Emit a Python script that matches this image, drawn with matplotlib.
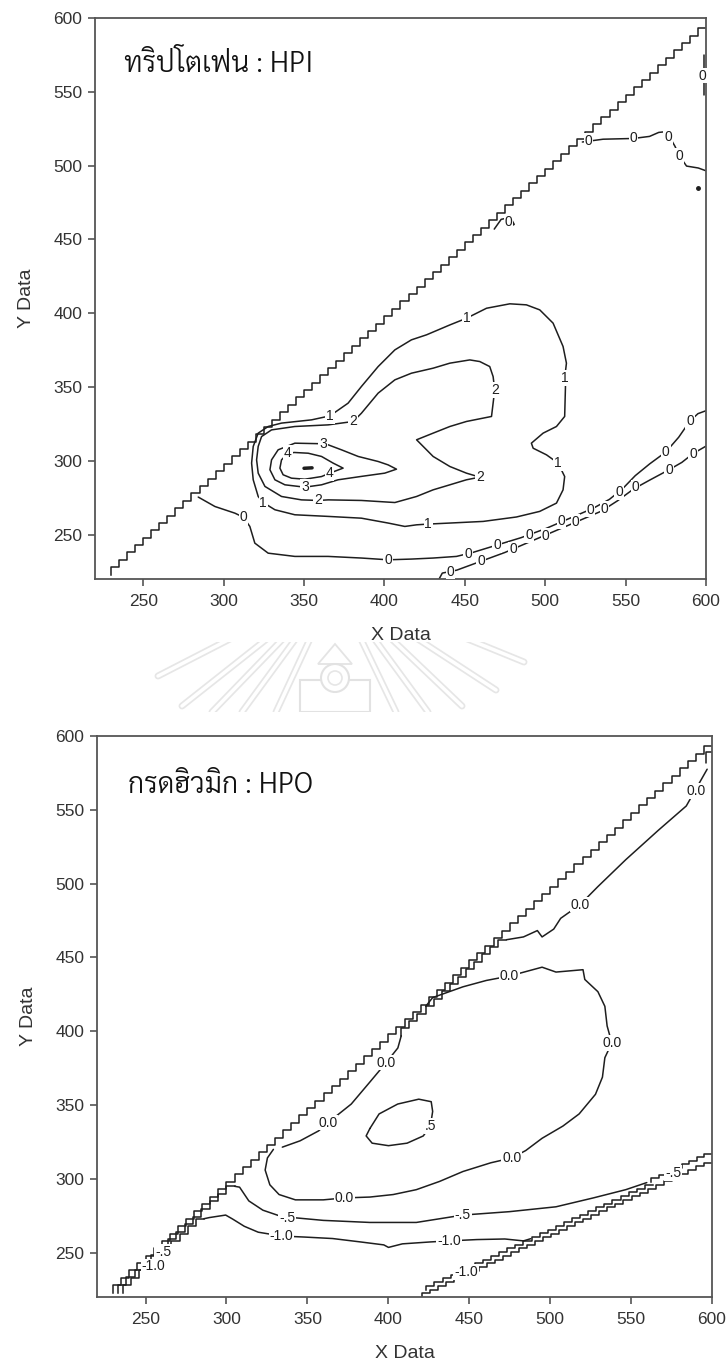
import numpy as np
import matplotlib
matplotlib.use('Agg')
import matplotlib.pyplot as plt
import matplotlib.font_manager as fm
from matplotlib.ft2font import FT2Font

plt.rcParams['font.family'] = ['Liberation Sans', 'DejaVu Sans']

INK = '#1e1e1e'
AXIS = '#555555'

# ---------------- data (x = X Data, y = Y Data) ----------------
x_ticks = [250, 300, 350, 400, 450, 500, 550, 600]
y_ticks = [250, 300, 350, 400, 450, 500, 550, 600]
limits = (220, 600)

# top panel : HPI (tryptophan)
hpi_title = 'ทริปโตเฟน : HPI'
hpi_edge = [(230, 223), (600, 593)]
hpi_c4 = [(340, 305.2), (344, 305.7), (352.6, 305.2), (360.9, 303), (368.1, 298.5), (374.3, 295.1),
          (366, 291.7), (360.9, 289.4), (350.5, 287.6), (342.2, 288.3), (337, 290.6), (335, 295.1),
          (336, 300.7), (340, 305.2)]
hpi_c4_labels = [(340, 305.2), (366, 291.7)]
hpi_peak = [(350, 295), (355, 295.3)]
hpi_c3 = [(361.9, 311.6), (344.3, 312), (333.9, 307.5), (329.8, 300.7), (328.8, 294), (331.9, 287.2),
          (338.1, 283.8), (350.5, 282.2), (360.9, 283.8), (371.2, 287.2), (385.7, 289.5), (400.2, 291.7),
          (407.5, 294.4), (402.3, 297.3), (396.1, 299.6), (383.7, 303), (373.3, 307.5), (365, 310.9),
          (361.9, 311.6)]
hpi_c3_labels = [(361.9, 311.6), (350.5, 282.2)]
hpi_c2 = [(380.6, 326.7), (385.7, 332.3), (396.1, 345.9), (406.5, 354.9), (416.8, 359.4), (430.3, 362.8),
          (440.7, 366.2), (453.1, 368.4), (459.3, 367.3), (465.5, 363.9), (467.6, 357.1), (468.6, 348.1),
          (467.6, 339.1), (466.6, 330.1), (451, 326.7), (440.7, 323.3), (430.3, 318.8), (420, 314.3),
          (430.3, 303), (440.7, 296.2), (451, 291.7), (459.3, 289), (451, 287.2), (440.7, 283.8),
          (430.3, 280.4), (420, 275.9), (406.5, 271.8), (385.7, 273.2), (365, 273.6), (358.8, 273.2),
          (348.4, 273.6), (336, 275.9), (325.7, 282.7), (321.5, 291.7), (320.5, 300.7), (321.5, 309.8),
          (323.6, 316.5), (329.8, 321), (344.3, 323.3), (365, 324.4), (380.6, 326.7)]
hpi_c2_labels = [(380.6, 326.7), (468.6, 348.1), (459.3, 289), (358.8, 273.2)]
hpi_c1 = [(366.1, 330.5), (377.4, 339.1), (385.7, 350.4), (396.1, 363.9), (406.5, 375.2), (416.8, 382),
          (426.2, 385.4), (440.7, 392.1), (451, 396.6), (463.5, 403.4), (478, 406.4), (488.3, 405.7),
          (496.6, 402.3), (504.9, 393.3), (511.1, 377.5), (513.2, 366.2), (512.1, 356), (512.6, 350.4),
          (512.1, 330.1), (507, 323.3), (498.7, 318.8), (491.4, 312), (492.5, 308.6), (500.8, 304.1),
          (508, 298.5), (512.1, 289.4), (511.1, 280.4), (507, 271.4), (496.6, 265.8), (482.1, 262),
          (461.4, 259), (440.7, 257.9), (427.2, 257.2), (420, 256.7), (412.7, 255.6), (402.3, 257.9),
          (385.7, 261.2), (365, 262.4), (344.3, 263.5), (331.9, 266.9), (324.6, 271.8), (321.5, 275.9),
          (318.4, 287.2), (317.4, 298.5), (318.4, 309.8), (321.5, 318.8), (327.7, 323.3), (336, 325.6),
          (354.7, 327.8), (366.1, 330.5)]
hpi_c1_labels = [(366.1, 330.5), (451, 396.6), (512.1, 356), (508, 298.5), (427.2, 257.2), (324.6, 271.8)]
hpi_c0_a = [(284.2, 275.5), (294.6, 269.1), (307, 264.6), (312.2, 261.9), (316.3, 255.6), (319.4, 244.3),
            (327.7, 237.5), (344.3, 235.3), (365, 235.3), (385.7, 234.2), (402.3, 233), (416.8, 233.5),
            (430.3, 234.2), (444.8, 235.3), (455, 238), (470, 243), (485, 248), (500, 254), (515, 261),
            (530, 268), (540, 274), (548, 281), (556, 290), (565, 298), (575, 306), (583, 316), (590, 327),
            (595, 332), (600, 334)]
hpi_c0_a_labels = [(312.2, 261.9), (402.3, 233), (452, 237), (470, 243), (490, 250), (510, 259),
                   (528, 267), (546, 279), (575, 306), (590, 327)]
hpi_c0_b = [(434, 220), (436, 224), (445, 226), (460, 232), (475, 238), (490, 245), (505, 252), (520, 259),
            (535, 266), (545, 273), (555, 281), (565, 287), (577, 294), (585, 299), (592, 305), (600, 310)]
hpi_c0_b_labels = [(441, 225), (460, 232), (480, 240), (500, 249), (519, 258.5), (537, 267.5),
                   (556, 282), (577, 294), (592, 305)]
hpi_c0_top = [(523.1, 516), (536, 517.9), (554.8, 518.4), (564.9, 519.8), (570.6, 522.5), (575, 523),
              (577.9, 518.4), (580.7, 513.1), (583.6, 506.4), (587.9, 499.7), (595.2, 498.4), (600, 496.5)]
hpi_c0_top_labels = [(527, 517), (554.8, 518.4), (576.4, 519.5), (583.6, 506.4)]
hpi_c0_edge = [(598.5, 575), (598.5, 548)]
hpi_c0_edge_labels = [(598, 561)]
hpi_c0_small = [(468.3, 457), (472.6, 463.6), (478.4, 465), (480.7, 460.2), (476, 457.5)]
hpi_c0_small_labels = [(477, 461.8)]
hpi_dot = (595.2, 485)

# bottom panel : HPO (humic acid)
hpo_title = 'กรดฮิวมิก : HPO'
hpo_edge = [(230, 223), (600, 593)]
hpo_edge2 = [(421, 220), (600, 311)]
hpo_corner = [(596, 582), (596, 589), (600, 589)]
hpo_c05 = [(388.6, 334.1), (394.3, 344), (405.8, 350.7), (418.8, 354), (426.5, 352.3), (427.4, 345.7),
           (426, 335.8), (421.6, 329.1), (411.6, 324.2), (400.1, 322.5), (390, 324.2), (386.3, 329.1),
           (388.6, 334.1)]
hpo_c05_labels = [(426, 335.8)]
hpo_c00_big = [(423.1, 416.9), (427.4, 422.8), (446.1, 430.1), (460.5, 434.4), (474.8, 437.4),
               (495, 443.4), (503.6, 440.1), (520.3, 441.7), (521.4, 435.1), (529.5, 426.8),
               (533.8, 416.9), (535.2, 403.6), (538.1, 392.1), (533.8, 382.1), (532.3, 368.9),
               (528, 357.3), (517.9, 344), (507.9, 335.8), (495, 327.5), (484.9, 319.2), (476.3, 314.2),
               (463.3, 310.9), (446.1, 305), (431.7, 298.3), (417.3, 292.7), (403, 289.4), (388.6, 287.7),
               (372.8, 287.1), (359.8, 285.8), (342.6, 285.8), (332.5, 289.4), (326.8, 296), (323.9, 306),
               (325.3, 314.2), (329, 320)]
hpo_c00_big_labels = [(474.8, 437.4), (538.1, 392.1), (476.3, 314.2), (372.8, 287.1)]
hpo_c00_low = [(334.5, 321.5), (345.5, 325.8), (356.9, 332.5), (362.7, 338.1), (377.1, 350.7),
               (388.6, 365.6), (398.7, 378.8), (405.9, 388.7), (408, 397)]
hpo_c00_hug = [(408, 397), (473, 462)]
hpo_c00_top = [(473, 462), (483.5, 463.9), (492.1, 468.2), (495, 463.9), (502.2, 469.2), (506.5, 476.5),
               (518.5, 485.8), (529.5, 498), (546.7, 516.2), (566.8, 536.1), (584.1, 552.6), (597, 577.5)]
hpo_c00_labels = [(362.7, 338.1), (398.7, 378.8), (518.5, 485.8), (589.9, 562.6)]
hpo_cm05_hug = [(233, 223), (305, 295)]
hpo_cm05 = [(305, 295), (308.1, 294.4), (313.8, 285.1), (322.5, 278.8), (334, 274.5), (359.8, 271.9),
            (388.6, 270.5), (417.3, 270.5), (446.1, 275.5), (474.8, 277.8), (503.6, 281.1), (526.6, 287.1),
            (546.7, 292.7), (559.7, 297.5)]
hpo_cm05_hug2 = [(562.5, 298), (600, 317)]
hpo_cm05_labels = [(260.9, 250.8), (337.4, 273.8), (446.1, 275.5), (576, 304)]
hpo_cm10_hug = [(236, 223), (286, 273)]
hpo_cm10 = [(286, 273), (289.4, 273.8), (299.5, 275.5), (303.8, 272.8), (311, 267.9), (319.6, 263.9),
            (334, 261.3), (348.3, 260.6), (365.6, 259.6), (382.8, 257.3), (397.2, 255.3), (400.1, 253.6),
            (408.7, 256), (426, 257.3), (437.5, 258), (454.7, 258.9), (472, 259.3), (483.5, 258),
            (488, 259.5)]
hpo_cm10_hug2 = [(423.5, 225), (563.5, 296)]
hpo_cm10_labels = [(254.8, 240.7), (334, 261.3), (437.5, 258), (448, 237)]


# ---------------- helpers ----------------
def find_thai_font():
    paths = fm.findSystemFonts()
    for wanted in ['Sarabun-Light', 'Sarabun-Regular', 'IBMPlexSansThaiLooped-Light',
                   'IBMPlexSansThaiLooped-Regular', 'Loma', 'Niramit-Regular']:
        for path in paths:
            if path.rsplit('/', 1)[-1].split('.')[0] == wanted:
                return fm.FontProperties(fname=path)
    for path in paths:
        try:
            if 'unifont' not in path.lower() and 0x0E17 in FT2Font(path).get_charmap():
                return fm.FontProperties(fname=path)
        except Exception:
            continue
    return fm.FontProperties(family='DejaVu Sans')


def line(ax, pts, lw=1.1):
    ax.plot([p[0] for p in pts], [p[1] for p in pts], color=INK, lw=lw, zorder=2,
            solid_joinstyle='round', solid_capstyle='round')


def labels(ax, pos, text):
    for lx, ly in pos:
        ax.text(lx, ly, text, fontsize=10, color=INK, ha='center', va='center', zorder=4,
                bbox=dict(boxstyle='square,pad=0.06', fc='white', ec='none'))


def stairs(ax, seg, step=5.0):
    (x0, y0), (x1, y1) = seg
    n = max(1, int(round((x1 - x0) / step)))
    xs = np.linspace(x0, x1, n + 1)
    ys = np.linspace(y0, y1, n + 1)
    ax.step(xs, ys, where='pre', color=INK, lw=1.1, zorder=2)


def frame(ax):
    ax.set_xlim(*limits)
    ax.set_ylim(*limits)
    ax.set_xticks(x_ticks)
    ax.set_yticks(y_ticks)
    for s in ax.spines.values():
        s.set_color(AXIS)
        s.set_linewidth(1.3)
    ax.tick_params(direction='out', length=5, width=1.2, color=AXIS, labelcolor='#333333', labelsize=12.5)
    ax.tick_params(axis='x', pad=6)
    ax.tick_params(axis='y', pad=4)
    ax.set_xlabel('X Data', fontsize=14, color='#333333', labelpad=13)
    ax.set_ylabel('Y Data', fontsize=14, color='#333333', labelpad=13)


def watermark(fig):
    # faint university emblem between the two panels (pixel coords, y downwards)
    wm = fig.add_axes([150 / 727, 1 - 712 / 1367, 380 / 727, 70 / 1367])
    wm.set_xlim(150, 530)
    wm.set_ylim(712, 642)
    wm.axis('off')
    cx, cy = 335, 585
    for ex, ey in [(158, 676), (182, 706), (212, 712), (242, 712), (276, 712),
                   (396, 712), (428, 712), (462, 706), (496, 690), (524, 662)]:
        wm.plot([cx, ex], [cy, ey], color='#e6e6e6', lw=5, solid_capstyle='round', zorder=1)
        wm.plot([cx, ex], [cy, ey], color='white', lw=2.5, solid_capstyle='round', zorder=2)
    wm.add_patch(plt.Rectangle((300, 680), 70, 32, fc='white', ec='#e2e2e2', lw=1.5, zorder=3))
    wm.add_patch(plt.Circle((335, 678), 14, fc='white', ec='#e2e2e2', lw=1.5, zorder=4))
    wm.add_patch(plt.Circle((335, 678), 7, fc='none', ec='#e6e6e6', lw=1.2, zorder=5))
    wm.add_patch(plt.Polygon([(318, 664), (335, 644), (352, 664)], fc='white', ec='#e4e4e4', lw=1.3, zorder=3))


thai = find_thai_font()
thai.set_size(20.5)

fig = plt.figure(figsize=(7.27, 13.67), dpi=100)
watermark(fig)
ax1 = fig.add_axes([95 / 727, (1367 - 579) / 1367, 611 / 727, 561 / 1367])
ax2 = fig.add_axes([97 / 727, (1367 - 1297) / 1367, 615 / 727, 561 / 1367])

# ---- top panel ----
frame(ax1)
stairs(ax1, hpi_edge)
for pts, pos, txt in [(hpi_c4, hpi_c4_labels, '4'), (hpi_c3, hpi_c3_labels, '3'),
                      (hpi_c2, hpi_c2_labels, '2'), (hpi_c1, hpi_c1_labels, '1'),
                      (hpi_c0_a, hpi_c0_a_labels, '0'), (hpi_c0_b, hpi_c0_b_labels, '0'),
                      (hpi_c0_top, hpi_c0_top_labels, '0'), (hpi_c0_edge, hpi_c0_edge_labels, '0'),
                      (hpi_c0_small, hpi_c0_small_labels, '0')]:
    line(ax1, pts)
    labels(ax1, pos, txt)
line(ax1, hpi_peak, lw=2.5)
ax1.plot([hpi_dot[0]], [hpi_dot[1]], 'o', color=INK, ms=2.5, zorder=2)
ax1.text(0.047, 0.918, hpi_title, transform=ax1.transAxes, fontproperties=thai, color='#111111',
         ha='left', va='center')

# ---- bottom panel ----
frame(ax2)
stairs(ax2, hpo_edge)
stairs(ax2, hpo_edge2)
stairs(ax2, hpo_c00_hug)
stairs(ax2, hpo_cm05_hug)
stairs(ax2, hpo_cm10_hug)
stairs(ax2, hpo_cm10_hug2)
stairs(ax2, hpo_cm05_hug2)
for pts in [hpo_c05, hpo_c00_big, hpo_c00_low, hpo_c00_top, hpo_cm05, hpo_cm10, hpo_corner]:
    line(ax2, pts)
labels(ax2, hpo_c05_labels, '.5')
labels(ax2, hpo_c00_big_labels + hpo_c00_labels, '0.0')
labels(ax2, hpo_cm05_labels, '-.5')
labels(ax2, hpo_cm10_labels, '-1.0')
ax2.text(0.05, 0.911, hpo_title, transform=ax2.transAxes, fontproperties=thai, color='#111111',
         ha='left', va='center')

fig.savefig('out.png', dpi=100)
